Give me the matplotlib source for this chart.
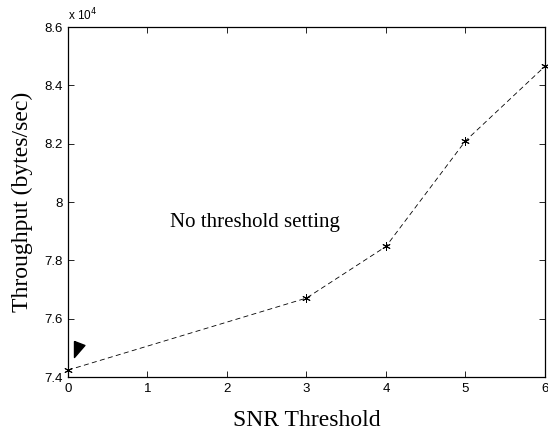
import matplotlib
matplotlib.use("Agg")
import matplotlib.pyplot as plt

# data
snr_threshold = [0, 3, 4, 5, 6]
throughput = [74240, 76710, 78480, 82100, 84660]  # bytes/sec
x_ticks = [0, 1, 2, 3, 4, 5, 6]
y_ticks = [7.4, 7.6, 7.8, 8.0, 8.2, 8.4, 8.6]
y_tick_labels = ["7.4", "7.6", "7.8", "8", "8.2", "8.4", "8.6"]
SCALE = 1e4

SANS = ["Liberation Sans", "DejaVu Sans"]
SERIF = ["Liberation Serif", "DejaVu Serif"]

fig = plt.figure(figsize=(5.48, 4.38), dpi=100)
ax = fig.add_axes([0.124, 0.139, 0.8705, 0.799])

y = [v / SCALE for v in throughput]
ax.plot(snr_threshold, y, color="black", linestyle=(0, (6, 4)), linewidth=0.6,
        marker=(6, 2, 0), markersize=6, markeredgewidth=0.7, clip_on=False)

# arrow head near the first point
tri = [(0, 1), (1.3, 0.5), (0, -1), (0, 1)]
ax.plot([0.075], [7.496], marker=tri, markersize=15, color="black",
        linestyle="none")

ax.text(1.28, 7.93, "No threshold setting", family=SERIF, fontsize=15,
        ha="left", va="center")

ax.set_xlim(0, 6)
ax.set_ylim(7.4, 8.6)
ax.set_xticks(x_ticks)
ax.set_xticklabels([str(t) for t in x_ticks], family=SANS, fontsize=9.5)
ax.set_yticks(y_ticks)
ax.set_yticklabels(y_tick_labels, family=SANS, fontsize=9.5)
ax.tick_params(direction="in", top=True, right=True, length=4, width=0.6, pad=4)
for s in ax.spines.values():
    s.set_linewidth(0.9)

ax.text(0.0, 1.012, r"x 10$^4$", transform=ax.transAxes, family=SANS,
        fontsize=8.5, ha="left", va="bottom")

ax.set_xlabel("SNR Threshold", family=SERIF, fontsize=17, labelpad=11)
ax.set_ylabel("Throughput (bytes/sec)", family=SERIF, fontsize=17, labelpad=8)

fig.savefig("out.png", dpi=100)
